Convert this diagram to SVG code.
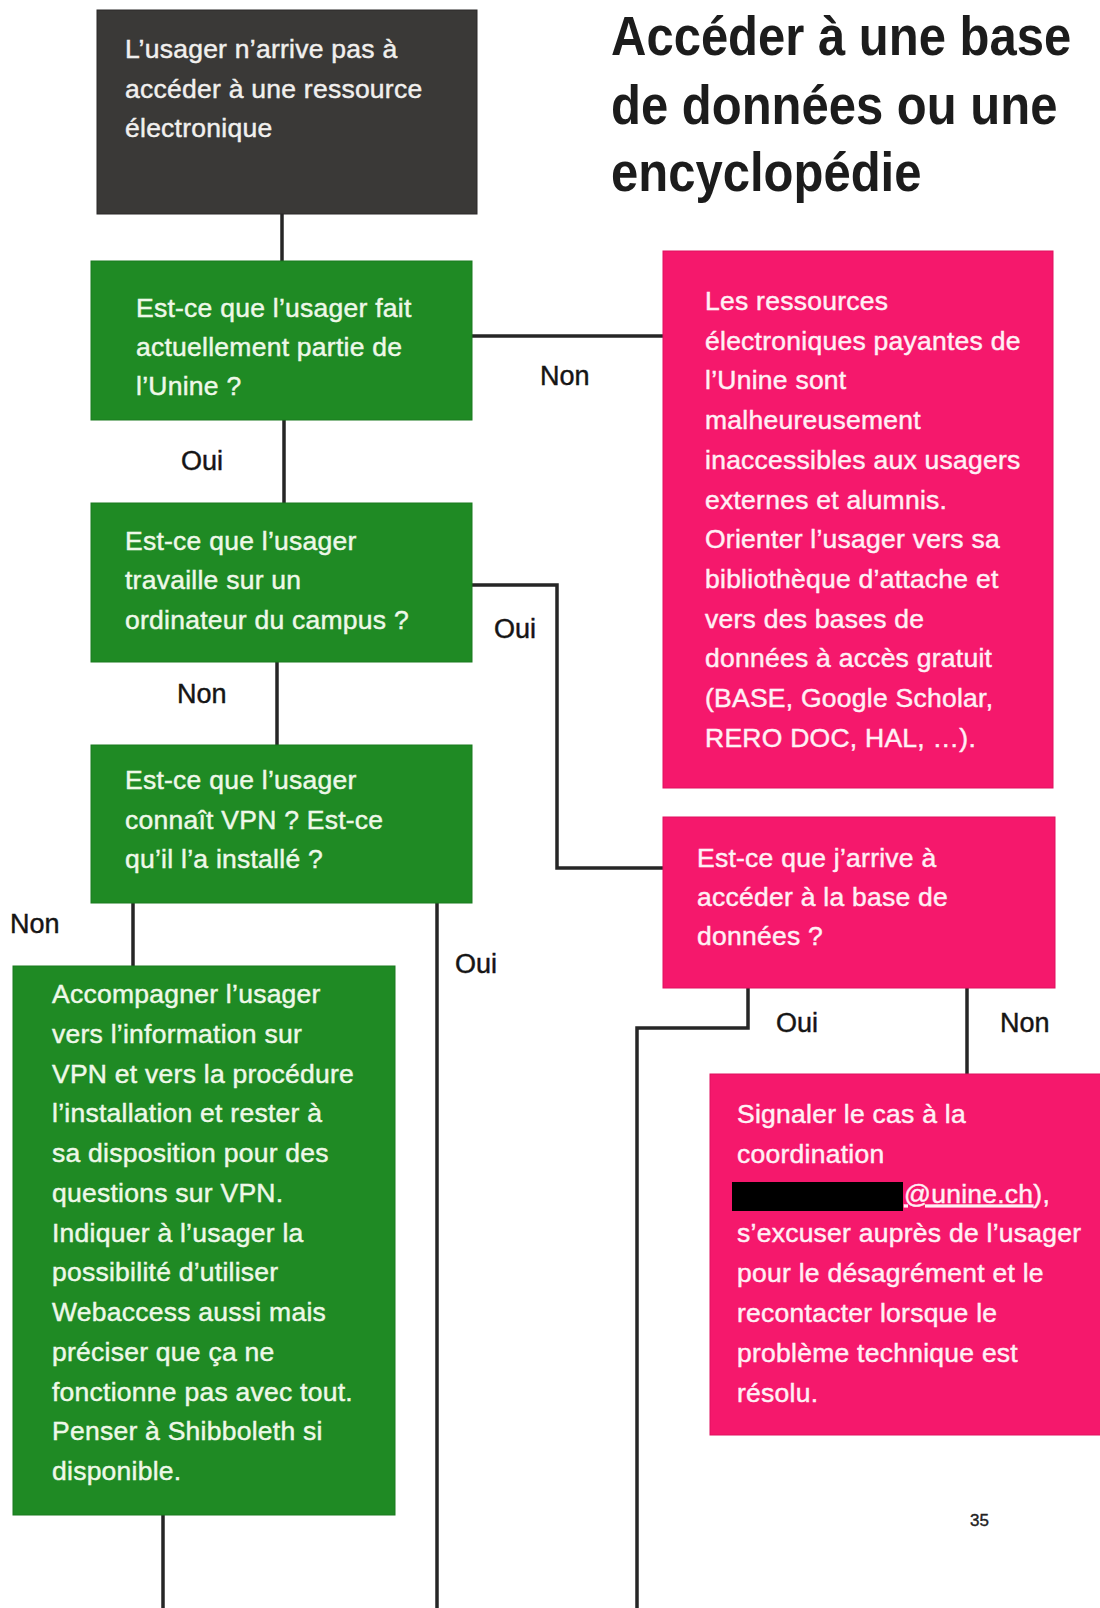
<svg xmlns="http://www.w3.org/2000/svg" width="1100" height="1608" viewBox="0 0 1100 1608">
  <style>
    .txt { font-family: "Liberation Sans", Arial, sans-serif; font-size: 26.5px; letter-spacing: 0.25px; stroke-width: 0.45px; }
    .on-dark { fill: #f1f0ee; stroke: #f1f0ee; }
    .on-green { fill: #eef8e8; stroke: #eef8e8; }
    .on-pink { fill: #fff0f5; stroke: #fff0f5; }
    .lbl { font-family: "Liberation Sans", Arial, sans-serif; font-size: 27px; fill: #151515; stroke: #151515; stroke-width: 0.45px; }
    .title { font-family: "Liberation Sans", Arial, sans-serif; font-size: 56px; font-weight: bold; fill: #1c1c1c; }
    .conn { fill: none; stroke: #262626; stroke-width: 3.5; stroke-linejoin: miter; stroke-linecap: butt; }
    .dark { fill: #3a3937; stroke: #2a2928; stroke-width: 1; }
    .green { fill: #1f8a24; stroke: #1a7a1f; stroke-width: 1; }
    .pink { fill: #f5186c; stroke: #e0105e; stroke-width: 1; }
  </style>
  <rect width="1100" height="1608" fill="#ffffff"/>

  <g id="title">
    <text class="title" transform="translate(611,0) scale(0.875,1)">
      <tspan x="0" y="55">Accéder à une base</tspan>
      <tspan x="0" y="124">de données ou une</tspan>
      <tspan x="0" y="191">encyclopédie</tspan>
    </text>
  </g>

  <g id="connectors">
    <path class="conn" d="M282,214 V261"/>
    <path class="conn" d="M284,420 V503"/>
    <path class="conn" d="M472,336 H663"/>
    <path class="conn" d="M472,585 H557 V868 H663"/>
    <path class="conn" d="M277,662 V745"/>
    <path class="conn" d="M133,903 V966"/>
    <path class="conn" d="M437,903 V1608"/>
    <path class="conn" d="M163,1515 V1608"/>
    <path class="conn" d="M748,988 V1028 H637 V1608"/>
    <path class="conn" d="M967,988 V1074"/>
    <g id="connector-labels">
      <text class="lbl" x="540" y="385">Non</text>
      <text class="lbl" x="181" y="470">Oui</text>
      <text class="lbl" x="494" y="638">Oui</text>
      <text class="lbl" x="177" y="703">Non</text>
      <text class="lbl" x="10" y="933">Non</text>
      <text class="lbl" x="455" y="973">Oui</text>
      <text class="lbl" x="776" y="1032">Oui</text>
      <text class="lbl" x="1000" y="1032">Non</text>
    </g>
  </g>

  <g id="start">
    <rect class="dark" x="97" y="10" width="380" height="204"/>
    <text class="txt on-dark">
      <tspan x="125" y="58">L’usager n’arrive pas à</tspan>
      <tspan x="125" y="97.5">accéder à une ressource</tspan>
      <tspan x="125" y="137">électronique</tspan>
    </text>
  </g>

  <g id="q-membre">
    <rect class="green" x="91" y="261" width="381" height="159"/>
    <text class="txt on-green">
      <tspan x="136" y="317">Est-ce que l’usager fait</tspan>
      <tspan x="136" y="356">actuellement partie de</tspan>
      <tspan x="136" y="395">l’Unine ?</tspan>
    </text>
  </g>

  <g id="q-campus">
    <rect class="green" x="91" y="503" width="381" height="159"/>
    <text class="txt on-green">
      <tspan x="125" y="550">Est-ce que l’usager</tspan>
      <tspan x="125" y="589">travaille sur un</tspan>
      <tspan x="125" y="629">ordinateur du campus ?</tspan>
    </text>
  </g>

  <g id="q-vpn">
    <rect class="green" x="91" y="745" width="381" height="158"/>
    <text class="txt on-green">
      <tspan x="125" y="789">Est-ce que l’usager</tspan>
      <tspan x="125" y="828.5">connaît VPN ? Est-ce</tspan>
      <tspan x="125" y="868">qu’il l’a installé ?</tspan>
    </text>
  </g>

  <g id="accompagner">
    <rect class="green" x="13" y="966" width="382" height="549"/>
    <text class="txt on-green">
      <tspan x="52" y="1003">Accompagner l’usager</tspan>
      <tspan x="52" y="1042.75">vers l’information sur</tspan>
      <tspan x="52" y="1082.5">VPN et vers la procédure</tspan>
      <tspan x="52" y="1122.25">l’installation et rester à</tspan>
      <tspan x="52" y="1162">sa disposition pour des</tspan>
      <tspan x="52" y="1201.75">questions sur VPN.</tspan>
      <tspan x="52" y="1241.5">Indiquer à l’usager la</tspan>
      <tspan x="52" y="1281.25">possibilité d’utiliser</tspan>
      <tspan x="52" y="1321">Webaccess aussi mais</tspan>
      <tspan x="52" y="1360.75">préciser que ça ne</tspan>
      <tspan x="52" y="1400.5">fonctionne pas avec tout.</tspan>
      <tspan x="52" y="1440.25">Penser à Shibboleth si</tspan>
      <tspan x="52" y="1480">disponible.</tspan>
    </text>
  </g>

  <g id="externes">
    <rect class="pink" x="663" y="251" width="390" height="537"/>
    <text class="txt on-pink">
      <tspan x="705" y="310">Les ressources</tspan>
      <tspan x="705" y="349.7">électroniques payantes de</tspan>
      <tspan x="705" y="389.4">l’Unine sont</tspan>
      <tspan x="705" y="429.1">malheureusement</tspan>
      <tspan x="705" y="468.8">inaccessibles aux usagers</tspan>
      <tspan x="705" y="508.5">externes et alumnis.</tspan>
      <tspan x="705" y="548.2">Orienter l’usager vers sa</tspan>
      <tspan x="705" y="587.9">bibliothèque d’attache et</tspan>
      <tspan x="705" y="627.6">vers des bases de</tspan>
      <tspan x="705" y="667.3">données à accès gratuit</tspan>
      <tspan x="705" y="707">(BASE, Google Scholar,</tspan>
      <tspan x="705" y="746.7">RERO DOC, HAL, …).</tspan>
    </text>
  </g>

  <g id="q-acces">
    <rect class="pink" x="663" y="817" width="392" height="171"/>
    <text class="txt on-pink">
      <tspan x="697" y="867">Est-ce que j’arrive à</tspan>
      <tspan x="697" y="906">accéder à la base de</tspan>
      <tspan x="697" y="945">données ?</tspan>
    </text>
  </g>

  <g id="signaler">
    <rect class="pink" x="710" y="1074" width="392" height="361"/>
    <text class="txt on-pink">
      <tspan x="737" y="1123">Signaler le cas à la</tspan>
      <tspan x="737" y="1162.8">coordination</tspan>
      <tspan x="737" y="1242.4">s’excuser auprès de l’usager</tspan>
      <tspan x="737" y="1282.2">pour le désagrément et le</tspan>
      <tspan x="737" y="1322">recontacter lorsque le</tspan>
      <tspan x="737" y="1361.8">problème technique est</tspan>
      <tspan x="737" y="1401.6">résolu.</tspan>
    </text>
    <rect x="732" y="1182" width="171" height="29" fill="#000000"/>
    <text class="txt on-pink" x="904" y="1202.6"><tspan text-decoration="underline">@unine.ch</tspan>),</text>
  </g>

  <g id="page-number">
    <text x="970" y="1526" style="font-family: 'Liberation Sans', Arial, sans-serif; font-size: 17px; fill: #222; stroke: #222; stroke-width: 0.4px;">35</text>
  </g>
</svg>
